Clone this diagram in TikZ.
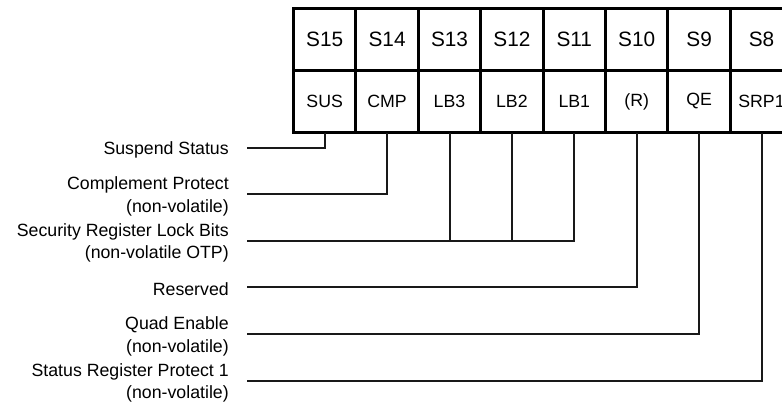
\documentclass[tikz,border=0pt]{standalone}
\usepackage{fontspec}
\setmainfont{Liberation Sans}
\usetikzlibrary{positioning}

\begin{document}
\begin{tikzpicture}[x=0.75pt,y=-0.75pt,
                    node distance=0pt,
                    cell/.style={draw,line width=2.25pt,minimum width=46.8pt,minimum height=46.6pt,
                                 inner sep=0pt,outer sep=0pt},
                    name cell/.style={cell,font=\fontsize{15.6}{18}\selectfont},
                    bit cell/.style={cell,font=\fontsize{13.3}{16}\selectfont},
                    desc/.style={align=right,font=\fontsize{13.3}{16.9}\selectfont,inner sep=0pt},
                    wire/.style={line width=1.5pt,color=black!90}]
  \useasboundingbox (0,0) rectangle (782,404);

  % register names
  \node[name cell] (s15) at (324.7,39.3) {S15};
  \node[name cell] (s14) [right=of s15] {S14};
  \node[name cell] (s13) [right=of s14] {S13};
  \node[name cell] (s12) [right=of s13] {S12};
  \node[name cell] (s11) [right=of s12] {S11};
  \node[name cell] (s10) [right=of s11] {S10};
  \node[name cell] (s9) [right=of s10] {S9};
  \node[name cell] (s8) [right=of s9] {S8};

  % bit names
  \node[bit cell] (sus) [below=of s15] {SUS};
  \node[bit cell] (cmp) [below=of s14] {CMP};
  \node[bit cell] (lb3) [below=of s13] {LB3};
  \node[bit cell] (lb2) [below=of s12] {LB2};
  \node[bit cell] (lb1) [below=of s11] {LB1};
  \node[bit cell] (res) [below=of s10] {(R)};
  \node[bit cell] (qe) [below=of s9] {QE};
  \node[bit cell] (srp) [below=of s8] {SRP1};

  % line ends
  \coordinate (sus end) at (247,148.3);
  \coordinate (cmp end) at (247,194.3);
  \coordinate (lb end) at (247,241);
  \coordinate (res end) at (247,287.3);
  \coordinate (qe end) at (247,334.3);
  \coordinate (srp end) at (247,381);

  \node[desc,left=13.5pt of sus end,yshift=-1.1pt] (sus text) {Suspend Status};
  \node[desc,left=13.5pt of cmp end,yshift=-1.5pt] (cmp text) {Complement Protect\\(non-volatile)};
  \node[desc,left=13.5pt of lb end,yshift=-1.5pt] (lb text) {Security Register Lock Bits\\(non-volatile OTP)};
  \node[desc,left=13.5pt of res end,yshift=-1.1pt] (res text) {Reserved};
  \node[desc,left=13.5pt of qe end,yshift=-1.5pt] (qe text) {Quad Enable\\(non-volatile)};
  \node[desc,left=13.5pt of srp end,yshift=-1.5pt] (srp text) {Status Register Protect 1\\(non-volatile)};

  \draw[wire] (sus.south) |- (sus end);
  \draw[wire] (cmp.south) |- (cmp end);
  \draw[wire] (lb1.south) |- (lb end);
  \draw[wire] (lb2.south) -- (lb2.south |- lb end);
  \draw[wire] (lb3.south) -- (lb3.south |- lb end);
  \draw[wire] (res.south) |- (res end);
  \draw[wire] (qe.south) |- (qe end);
  \draw[wire] (srp.south) |- (srp end);
\end{tikzpicture}
\end{document}
